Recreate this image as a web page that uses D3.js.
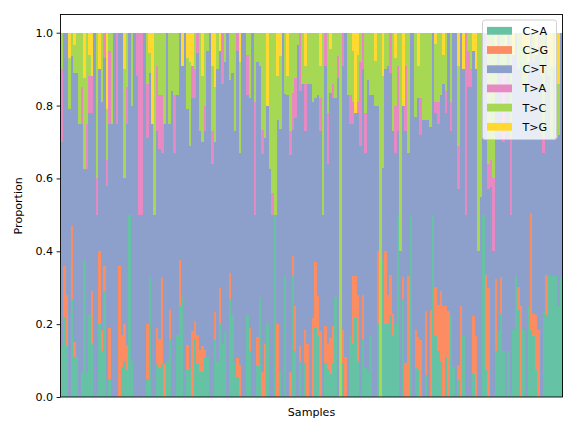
<!DOCTYPE html>
<html>
<head>
<meta charset="utf-8">
<script src="https://cdn.jsdelivr.net/npm/d3@7"></script>
<style>
  html, body { margin: 0; padding: 0; background: #fff; }
  svg { display: block; font-family: "DejaVu Sans", sans-serif; }
</style>
</head>
<body>
<svg id="chart" width="576" height="432"></svg>
<script>
// Mutation categories and their colours (Set2)
const categories = ["C>A", "C>G", "C>T", "T>A", "T>C", "T>G"];
const colors = ["#66c2a5", "#fc8d62", "#8da0cb", "#e78ac3", "#a6d854", "#ffd92f"];
const yTicks = [0.0, 0.2, 0.4, 0.6, 0.8, 1.0];

// Per-sample proportions (200 samples)
const CA = [.14,.22,.14,0,.27,.11,.11,0,.07,.375,.065,.225,.145,0,0,.2,.125,.29,0,.05,0,0,0,0,.083,.1,.074,.5,.1,0,0,0,0,0,.05,.33,0,0,.09,.08,.09,0,.1,.16,0,0,.17,.25,.275,0,
.074,.08,0,.16,.09,.07,.07,.11,.11,0,0,.156,.1,.2,.145,.18,0,.27,.225,.09,.056,0,0,0,.225,.125,0,0,.085,.275,0,0,.2,0,0,.5,0,.068,0,.333,0,0,.333,.125,0,.1,0,.094,0,0,
0,.19,.167,0,0,.094,.076,.063,.094,.275,0,0,.094,0,0,.167,.145,.216,.1,0,.16,.08,.068,.167,0,0,.2,0,.375,.2,.2,.225,.167,.2,.5,0,.27,0,0,.5,0,.083,.076,0,0,.061,0,0,.5,.167,
.125,.1,0,.11,0,.225,.083,0,.047,0,.167,0,0,0,.063,0,0,0,.5,.074,0,0,0,.125,.18,.23,.125,0,.125,0,.184,.333,.238,0,.184,0,.25,.184,.167,.074,0,0,.236,.225,.333,.333,.333,.333,.25,.33];
const CG = [0,.14,.14,0,.2,.04,0,0,0,0,0,0,.145,0,0,.2,.06,.07,0,.14,0,0,0,.36,.086,.1,.07,0,0,0,0,0,0,0,.15,0,0,0,.1,.08,.24,.09,0,.08,0,0,0,.125,0,0,
.07,0,.18,.05,.08,.06,.07,.02,0,0,0,.077,0,.1,0,0,0,.07,0,0,.05,.087,0,0,0,.065,0,0,.08,0,.068,.145,0,0,0,0,.2,0,0,0,0,.068,.055,.125,0,.04,0,.09,.145,0,
.217,.18,.11,.18,0,.1,.07,.1,.1,0,0,0,.09,.11,0,0,.188,.117,.18,0,.12,0,0,0,0,0,.2,0,0,.2,.08,.11,.06,0,0,0,.06,.094,.333,0,0,.1,.09,.156,0,.175,0,.238,0,.135,
.127,.19,.25,.14,.235,0,0,0,.04,.25,0,0,0,0,.16,.167,0,0,0,.26,.3,0,0,.2,0,.1,0,0,0,0,0,0,.064,.25,0,0,0,.32,.06,.15,.184,0,0,.11,0,0,0,0,0,0];
const CT = [.56,.64,.72,.79,.465,.74,.78,.75,.68,.25,.56,.555,.49,1,.5,.5,.625,.57,.58,.56,.75,1,.75,.64,.831,.4,.606,.5,.7,1,.88,.5,.5,1,.51,.56,.75,.5,.54,.52,.34,.66,.9,.51,.84,.67,.66,.625,.635,1,
.646,.61,.64,.61,.775,.6,.56,.6,.84,1,.64,.467,.8,.65,.715,.74,1,.53,.665,.64,.844,.583,1,1,.605,.63,1,.5,.755,.635,.6,.565,.6,.625,.5,0,.56,.667,1,.5,.83,.597,.346,.515,.965,.7,.86,.546,.715,.86,
.593,.45,.553,.55,.5,.716,.494,.672,.626,.545,.877,0,.726,.89,.83,.583,.417,.447,.5,.69,.62,.59,.802,.663,.83,.8,.4,0,.255,.5,.63,.555,.503,.47,.23,.4,.47,.636,.337,.5,1,.587,.654,.564,.76,.524,.76,.502,.5,.478,
.498,.54,.61,.53,.765,.505,.917,1,.483,.75,.733,.5,.85,.85,.727,.733,.4,.55,.5,.596,.27,.576,.4,.525,.82,.57,.575,.88,.875,.5,.756,.667,.598,.67,.656,.85,.67,.496,.693,.716,.776,.88,.434,.665,.547,.377,.567,.377,.47,.67];
const TA = [.2,0,0,0,0,0,0,0,.1,0,.125,.1,.1,0,.1,0,0,.07,.07,.2,0,0,.25,0,0,0,.1,0,0,0,.12,.5,.5,0,.15,0,0,0,.18,.15,.16,0,0,0,0,.16,0,0,0,0,
0,0,.09,.08,.055,0,0,.07,0,0,.09,0,0,0,.14,0,0,0,0,0,.05,0,0,0,.11,0,0,.31,0,0,.065,0,0,0,.06,0,0,0,0,0,0,.065,.1,.11,0,.16,0,.13,0,0,
0,0,0,.09,0,.09,.14,0,.04,0,.06,0,.09,0,0,.08,.06,0,.03,.23,.1,.11,0,0,0,0,0,0,0,0,0,.11,0,.13,.18,0,0,.18,0,0,0,0,0,.1,0,0,0,0,0,.03,
.06,0,0,.06,0,.08,0,0,.12,0,0,.5,.1,.05,0,0,0,0,0,.07,.07,.074,.2,0,0,0,.2,0,0,.21,0,0,0,0,0,0,0,0,0,0,.04,0,.04,0,0,0,0,0,0,0];
const TC = [.1,0,0,.14,.065,.075,.11,.25,.15,.25,.25,.06,0,0,.4,0,.19,0,.14,.05,.25,0,0,0,0,.3,.15,0,.2,0,0,0,0,0,.14,.055,0,.5,.09,.17,.17,.25,0,.25,.16,.17,.17,0,0,0,
.14,.23,0,.1,0,.27,.18,.2,.05,0,.18,.15,.1,0,0,.08,0,.13,.11,.27,0,.25,0,0,.06,.18,0,.19,.08,.09,.267,.29,0,.375,.44,.5,.12,.2,0,.167,.05,.27,.166,.125,.035,0,.14,.05,.14,.14,
.19,.18,.17,.09,.5,0,.22,.12,.14,.18,.063,1,0,0,.17,.17,.14,0,.13,.08,0,.22,.13,.17,.17,.123,.2,1,.25,.1,.09,0,.27,.13,.09,.6,0,.09,.33,0,0,.23,.09,.18,.24,.24,.24,.26,0,.16,
.19,.17,.08,.16,0,.19,0,0,.22,0,0,0,.05,.1,0,0,.6,.45,0,0,.36,.35,.4,.1,0,.1,.1,.07,0,.29,0,0,.1,.08,.12,.1,0,0,.08,0,0,.12,.29,0,.06,.2,.1,.2,.14,0];
const TG = [0,0,0,.07,0,.035,0,0,0,.125,0,.06,.12,0,0,.1,0,0,.21,0,0,0,0,0,0,.1,0,0,0,0,0,0,0,0,0,.055,.25,0,0,0,0,0,0,0,0,0,0,0,.09,0,
.07,.08,.09,0,0,0,.12,0,0,0,.09,.15,0,.05,0,0,0,0,0,0,0,.08,0,0,0,0,0,0,0,0,0,0,.2,0,0,0,.12,.065,0,0,.12,0,0,0,0,0,0,.09,0,0,
0,0,0,.09,0,0,0,.045,0,0,0,0,0,0,0,0,.05,.22,.06,0,0,0,0,0,0,.077,0,0,.12,0,0,0,0,.07,0,0,.2,0,0,0,0,0,.09,0,0,0,0,0,0,.03,
0,0,.06,0,0,0,0,0,.09,0,.1,0,0,0,.05,.1,0,0,0,0,0,0,0,.05,0,0,0,.05,0,0,.06,0,0,0,.04,.05,.08,0,0,.06,0,0,0,0,.06,.09,0,.09,.14,0];

const series = [CA, CG, CT, TA, TC, TG];
const n = CA.length;

// Build table: each sample normalised to proportions
const table = d3.range(n).map(i => {
  const row = { sample: i };
  const tot = d3.sum(series, s => s[i]);
  categories.forEach((c, k) => { row[c] = series[k][i] / tot; });
  return row;
});

const stacked = d3.stack().keys(categories)(table);

const svg = d3.select("#chart");
const L = 60.5, R = 562.5, T = 14.5, B = 397;

const x = d3.scaleBand().domain(d3.range(n)).range([L, R]).padding(0);
const y = d3.scaleLinear().domain([0, 1.05]).range([B, T]);

// bars
svg.append("g").selectAll("g")
  .data(stacked).join("g")
  .attr("fill", (d, k) => colors[k])
  .selectAll("rect")
  .data(d => d).join("rect")
  .attr("x", d => x(d.data.sample))
  .attr("width", x.bandwidth() + 0.15)
  .attr("y", d => y(d[1]))
  .attr("height", d => Math.max(0, y(d[0]) - y(d[1])))
  .attr("shape-rendering", "crispEdges");

// y axis
const yAxis = d3.axisLeft(y).tickValues(yTicks).tickFormat(d3.format(".1f")).tickSize(3.9).tickPadding(3.5);
const ga = svg.append("g").attr("transform", `translate(${L},0)`).call(yAxis);
ga.select(".domain").remove();
ga.selectAll("text").attr("font-size", "11.1px").attr("fill", "#000").attr("font-family", "DejaVu Sans");
ga.selectAll("line").attr("stroke", "#000").attr("stroke-width", 0.9);

// frame
svg.append("rect").attr("x", L).attr("y", T).attr("width", R - L).attr("height", B - T)
  .attr("fill", "none").attr("stroke", "#000").attr("stroke-width", 0.9);

// labels
svg.append("text").attr("x", (L + R) / 2).attr("y", 415.5).attr("text-anchor", "middle")
  .attr("font-size", "11.1px").text("Samples");
svg.append("text").attr("transform", `translate(22,${(T + B) / 2}) rotate(-90)`)
  .attr("text-anchor", "middle").attr("font-size", "11.1px").text("Proportion");

// legend
const lg = svg.append("g");
lg.append("rect").attr("x", 482.5).attr("y", 20).attr("width", 74).attr("height", 119.5)
  .attr("rx", 2.5).attr("fill", "#fff").attr("fill-opacity", 0.8)
  .attr("stroke", "#cccccc").attr("stroke-width", 0.9);
categories.forEach((c, k) => {
  const cy = 30.8 + k * 19.2;
  lg.append("rect").attr("x", 487).attr("y", cy - 3.9).attr("width", 25).attr("height", 7.8)
    .attr("fill", colors[k]);
  lg.append("text").attr("x", 522.5).attr("y", cy).attr("dy", "0.36em")
    .attr("font-size", "11.1px").text(c);
});
</script>
</body>
</html>
